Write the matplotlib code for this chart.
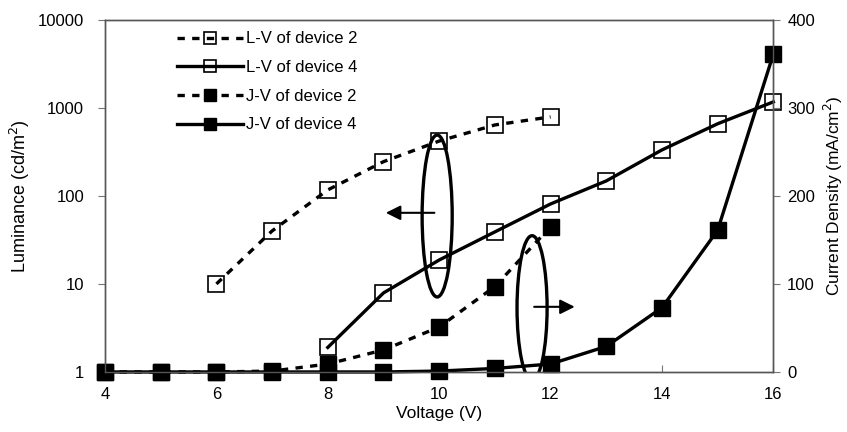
import matplotlib
matplotlib.use("Agg")
import matplotlib.pyplot as plt
from matplotlib.patches import Ellipse

plt.rcParams["font.family"] = ["Liberation Sans", "DejaVu Sans"]
plt.rcParams["font.size"] = 12

# voltages (V)
v_lv2 = [6, 7, 8, 9, 10, 11, 12]
v_lv4 = [8, 9, 10, 11, 12, 13, 14, 15, 16]
v_jv2 = [4, 5, 6, 7, 8, 9, 10, 11, 12]
v_jv4 = [4, 5, 6, 7, 8, 9, 10, 11, 12, 13, 14, 15, 16]

# luminance (cd/m2)
lum_dev2 = [10, 40, 117, 245, 420, 640, 790]
lum_dev4 = [1.9, 7.9, 18.7, 39, 81, 148, 333, 660, 1170]

# current density (mA/cm2)
j_dev2 = [0, 0, 0, 1, 9, 25, 51, 97, 165]
j_dev4 = [0, 0, 0, 0, 0, 0, 1, 4, 9, 29, 73, 161, 361]

fig, ax = plt.subplots(figsize=(8.47, 4.32), dpi=100)
fig.subplots_adjust(left=0.124, right=0.913, top=0.954, bottom=0.139)
ax2 = ax.twinx()

ms = 12
lw = 2.4
h1, = ax.plot(v_lv2, lum_dev2, color="black", ls=(0, (2.2, 2.2)), lw=lw,
              marker="s", ms=ms, mfc="none", mec="black", mew=1.2,
              clip_on=False, label="L-V of device 2")
h2, = ax.plot(v_lv4, lum_dev4, color="black", ls="-", lw=lw,
              marker="s", ms=ms, mfc="none", mec="black", mew=1.2,
              clip_on=False, label="L-V of device 4")
h3, = ax2.plot(v_jv2, j_dev2, color="black", ls=(0, (2.2, 2.2)), lw=lw,
               marker="s", ms=ms, mfc="black", mec="black",
               clip_on=False, label="J-V of device 2")
h4, = ax2.plot(v_jv4, j_dev4, color="black", ls="-", lw=lw,
               marker="s", ms=ms, mfc="black", mec="black",
               clip_on=False, label="J-V of device 4")

ax.set_yscale("log")
ax.set_ylim(1, 10000)
ax.set_yticks([1, 10, 100, 1000, 10000])
ax.set_yticklabels(["1", "10", "100", "1000", "10000"])
ax.minorticks_off()
ax.set_xlim(4, 16)
ax.set_xticks([4, 6, 8, 10, 12, 14, 16])
ax2.set_ylim(0, 400)
ax2.set_yticks([0, 100, 200, 300, 400])

ax.set_xlabel("Voltage (V)", labelpad=3, fontsize=12.5)
ax.set_ylabel("Luminance (cd/m$^2$)", labelpad=4, fontsize=13)
ax2.set_ylabel("Current Density (mA/cm$^2$)", labelpad=5, fontsize=12.5)

for a in (ax, ax2):
    for s in a.spines.values():
        s.set_color("#555555")
        s.set_linewidth(1.0)
ax.tick_params(axis="y", direction="out", length=5, color="#777777", pad=10)
ax.tick_params(axis="x", direction="in", length=5, color="#777777", pad=11)
ax2.tick_params(axis="y", direction="out", length=5, color="#777777", pad=5)

ax2.legend(handles=[h1, h2, h3, h4], loc="upper left",
           bbox_to_anchor=(0.085, 1.01), frameon=False, handlelength=4.0,
           handletextpad=0.15, labelspacing=0.82, markerscale=0.75,
           fontsize=12)

# ellipses and arrows
for cx, cy, hgt in [(0.497, 0.443, 0.46), (0.639, 0.182, 0.41)]:
    ax.add_patch(Ellipse((cx, cy), 0.045, hgt, transform=ax.transAxes,
                         fill=False, ec="black", lw=2.4))
ax.annotate("", xy=(0.416, 0.452), xytext=(0.497, 0.452),
            xycoords="axes fraction",
            arrowprops=dict(arrowstyle="-|>", color="black", lw=1.5,
                            mutation_scale=22))
ax.annotate("", xy=(0.707, 0.185), xytext=(0.638, 0.185),
            xycoords="axes fraction",
            arrowprops=dict(arrowstyle="-|>", color="black", lw=1.5,
                            mutation_scale=22))

fig.savefig("out.png", dpi=100)
